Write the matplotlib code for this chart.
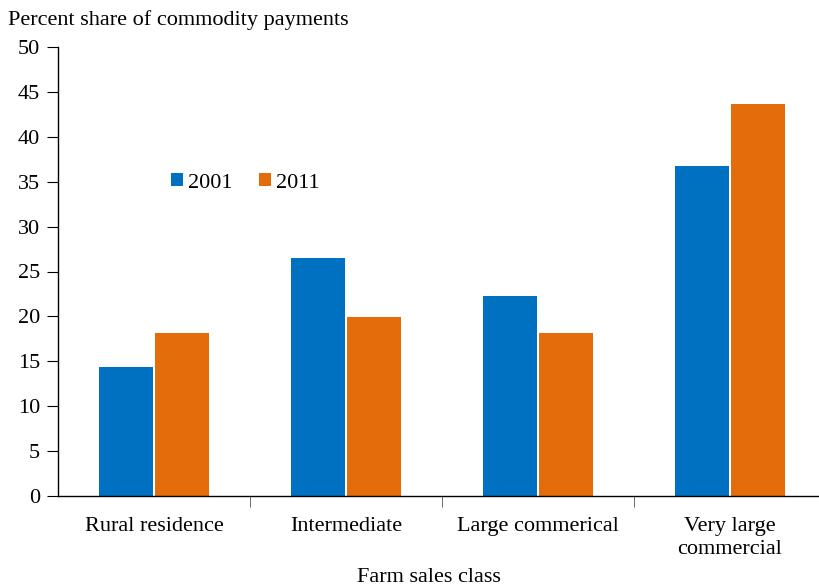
import matplotlib
matplotlib.use("Agg")
import matplotlib.pyplot as plt
import numpy as np

categories = ["Rural residence", "Intermediate", "Large commerical", "Very large\ncommercial"]
years = ["2001", "2011"]
vals_2001 = [14.4, 26.5, 22.3, 36.7]
vals_2011 = [18.2, 19.9, 18.2, 43.6]
colors = ["#0070C0", "#E46C0A"]

plt.rcParams['font.family'] = ['Liberation Serif', 'DejaVu Serif']

W, H = 819, 586
fig = plt.figure(figsize=(W/100, H/100), dpi=100)
ax = fig.add_axes([58/W, 1-496/H, 768/W, (496-47)/H])

x = np.arange(len(categories))
bw = 0.28
ax.bar(x - 0.145, vals_2001, bw, color=colors[0], label=years[0])
ax.bar(x + 0.145, vals_2011, bw, color=colors[1], label=years[1])

ax.set_xlim(-0.5, len(categories) - 0.5)
ax.set_ylim(0, 50)
ax.set_yticks(np.arange(0, 51, 5))
ax.tick_params(axis='y', labelsize=16, length=8, width=0.8, direction='out', pad=5)
ax.set_xticks(x)
ax.set_xticklabels(categories, fontsize=16, linespacing=1.3)
ax.tick_params(axis='x', length=0, pad=15)
ax.set_xticks(np.arange(0.5, len(categories) - 0.5, 1), minor=True)
ax.tick_params(axis='x', which='minor', length=8, width=0.6, color='#555555')
for s in ['top', 'right']:
    ax.spines[s].set_visible(False)
for s in ['left', 'bottom']:
    ax.spines[s].set_linewidth(1.0)

leg = ax.legend(loc='upper left', bbox_to_anchor=(93/768, (496-153)/449), ncol=2,
                frameon=False, fontsize=16, handlelength=0.55, handleheight=0.55,
                columnspacing=1.2, handletextpad=0.2)

fig.text(8/W, 1-20/H, "Percent share of commodity payments", fontsize=16, va='center', ha='left')
fig.text(429/W, 1-577/H, "Farm sales class", fontsize=16, va='center', ha='center')

fig.savefig("out.png", dpi=100)
